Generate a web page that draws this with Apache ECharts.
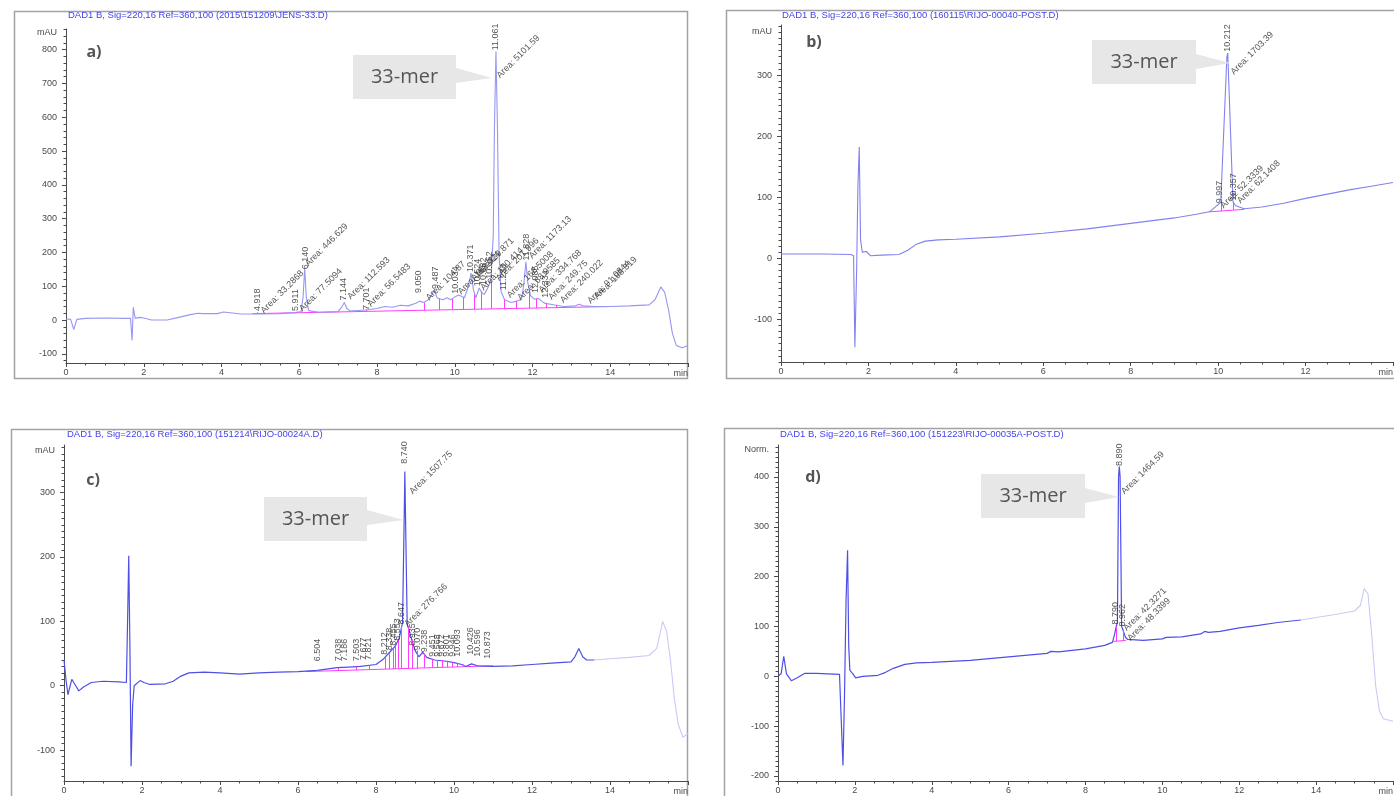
<!DOCTYPE html>
<html><head><meta charset="utf-8">
<script src="https://cdn.jsdelivr.net/npm/echarts@6/dist/echarts.min.js"></script>
<style>html,body{margin:0;padding:0;background:#fff}#c{width:1394px;height:796px}</style>
</head><body><div id="c"></div>
<script>
// ---------- DATA ----------
const traceA = [[0,3],[0.12,2],[0.2,-28],[0.28,2],[0.5,5],[1.0,6],[1.5,5],[1.66,5],[1.7,-60],[1.73,38],[1.78,5],[1.9,8],[2.0,6],[2.2,0],[2.6,0],[2.9,8],[3.2,16],[3.4,20],[3.45,25],[3.5,19],[3.9,19],[4.05,24],[4.1,19],[4.5,18],[5.0,18],[5.5,19],[5.9,22],[6.05,25],[6.1,70],[6.14,153],[6.18,70],[6.24,28],[6.5,23],[7.0,25],[7.1,40],[7.16,52],[7.22,35],[7.3,27],[7.7,30],[8.0,34],[8.2,40],[8.4,38],[8.6,44],[8.8,42],[9.0,50],[9.1,56],[9.2,52],[9.35,62],[9.47,88],[9.55,65],[9.7,60],[9.8,66],[9.9,60],[10.0,68],[10.1,74],[10.25,66],[10.35,100],[10.42,139],[10.48,90],[10.54,66],[10.63,95],[10.7,80],[10.76,76],[10.85,95],[10.93,118],[10.99,250],[11.02,560],[11.06,795],[11.1,560],[11.14,200],[11.19,85],[11.28,60],[11.45,52],[11.6,56],[11.72,62],[11.78,110],[11.83,172],[11.88,110],[11.95,72],[12.05,62],[12.15,64],[12.3,50],[12.5,46],[12.8,40],[13.1,42],[13.2,47],[13.3,42],[13.6,40],[14.0,40],[14.5,42],[15.0,45],[15.15,60],[15.3,98],[15.4,82],[15.5,30],[15.6,-40],[15.7,-75],[15.85,-82],[16.0,-75]];
const traceB = [[0,7],[1.0,7],[1.6,6],[1.66,4],[1.69,-146],[1.73,-20],[1.76,120],[1.79,182],[1.82,30],[1.86,10],[1.95,11],[2.05,4],[2.3,5],[2.7,6],[2.9,13],[3.1,23],[3.3,28],[3.6,30],[4,31],[5,35],[6,41],[7,48],[8,57],[9,66],[9.5,72],[9.8,76],[9.95,85],[10.0,88],[10.06,92],[10.2,330],[10.22,336],[10.34,92],[10.4,86],[10.6,81],[11,84],[11.5,90],[12,98],[12.5,105],[13,112],[13.5,118],[14,124]];
const traceC = [[0,40],[0.05,10],[0.1,-14],[0.2,10],[0.28,2],[0.38,-8],[0.5,-2],[0.7,5],[1.0,7],[1.4,6],[1.6,5],[1.63,100],[1.66,202],[1.69,60],[1.72,-125],[1.76,-30],[1.8,0],[1.95,8],[2.05,5],[2.2,2],[2.6,3],[2.8,7],[3.0,15],[3.2,20],[3.6,21],[4,20],[4.5,18],[5,20],[5.5,21],[6,22],[6.5,24],[7,28],[7.3,29],[7.6,30],[8,33],[8.2,42],[8.35,52],[8.5,62],[8.6,75],[8.68,98],[8.72,250],[8.74,333],[8.76,250],[8.8,96],[8.9,75],[9.0,55],[9.1,45],[9.2,52],[9.3,44],[9.5,40],[9.8,38],[10.0,36],[10.2,33],[10.3,30],[10.45,34],[10.6,31],[11,30],[11.5,31],[12,33],[12.5,35],[13,37],[13.1,45],[13.2,58],[13.3,45],[13.4,40],[13.6,40]];
const traceCFaded = [[13.6,40],[14,42],[14.5,44],[15,47],[15.2,58],[15.35,100],[15.45,85],[15.55,40],[15.65,-20],[15.75,-60],[15.87,-80],[16,-74]];
const traceD = [[0,0],[0.08,5],[0.15,40],[0.22,5],[0.35,-9],[0.5,-3],[0.7,6],[1.0,6],[1.3,5],[1.6,4],[1.65,0],[1.69,-179],[1.73,-40],[1.77,150],[1.81,253],[1.84,60],[1.87,12],[1.95,5],[2.02,-3],[2.2,0],[2.6,2],[2.8,8],[3.0,16],[3.3,24],[3.6,27],[4,28],[5,32],[6,39],[7,46],[7.1,50],[7.3,49],[8,55],[8.5,62],[8.7,68],[8.76,85],[8.8,100],[8.83,108],[8.86,400],[8.88,421],[8.9,400],[8.94,100],[8.98,92],[9.04,78],[9.1,74],[9.5,72],[10,75],[10.1,78],[10.15,75],[10.5,79],[11,85],[11.1,90],[11.15,94],[11.2,88],[11.5,90],[12,97],[12.5,102],[13,108],[13.6,113]];
const traceDFaded = [[13.6,113],[14,118],[14.5,124],[15,131],[15.15,142],[15.25,176],[15.35,165],[15.45,80],[15.55,-20],[15.65,-70],[15.75,-85],[16,-90]];

// integration baselines [t, v] and drop lines [t, base, top]
const baseA = [[4.8,19],[14.0,40]];
const dropsA = [[4.92,19,23],[5.91,21,24],[7.72,26,30],[9.21,29,52],[9.6,30,64],[9.94,31,62],[10.22,31,68],[10.5,32,75],[10.68,32,85],[10.94,33,118],[11.28,34,60],[11.59,35,56],[11.92,35,88],[12.1,36,63],[12.36,36,49],[12.62,37,44]];
const baseB = [[9.8,76],[10.6,80]];
const dropsB = [[10.06,77,92],[10.34,79,92]];
const baseC = [[6.2,22],[11.0,31]];
const dropsC = [[6.5,23,25],[7.04,24,28],[7.5,24,30],[7.82,25,32],[8.23,26,44],[8.33,26,51],[8.43,26,57],[8.5,26,62],[8.58,27,72],[8.66,27,94],[8.82,27,92],[8.93,27,72],[9.05,27,55],[9.23,28,50],[9.44,28,42],[9.57,28,40],[9.69,29,40],[9.82,29,39],[9.95,29,36],[10.08,29,35],[10.23,30,33]];
const baseD = [[8.72,70],[9.05,72]];
const dropsD = [[8.79,70,100],[8.97,71,94]];

// peak annotations [t, v, text]
const rtA = [[4.92,27,'4.918'],[5.91,27,'5.911'],[6.15,150,'6.140'],[7.15,58,'7.144'],[7.72,30,'7.701'],[9.07,80,'9.050'],[9.5,92,'9.487'],[10.03,78,'10.034'],[10.4,142,'10.371'],[10.58,100,'10.524'],[10.74,104,'10.682'],[10.9,122,'10.852'],[11.06,798,'11.061'],[11.25,88,'11.233'],[11.84,176,'11.828'],[12.08,80,'12.085'],[12.33,66,'12.334']];
const areaA = [[5.05,24,'Area: 33.2868'],[6.04,30,'Area: 77.5094'],[6.19,163,'Area: 446.629'],[7.28,65,'Area: 112.593'],[7.8,44,'Area: 56.5483'],[9.3,62,'Area: 104.87'],[10.12,80,'Area: 183.024'],[10.46,120,'Area: 429.871'],[10.7,92,'Area: 160.414'],[11.12,720,'Area: 5101.59'],[11.1,120,'Area: 201.996'],[11.38,70,'Area: 168.5008'],[11.65,62,'Area: 68.9585'],[11.95,186,'Area: 1173.13'],[12.2,85,'Area: 334.768'],[12.45,64,'Area: 249.75'],[12.75,55,'Area: 240.022'],[13.45,53,'Area: 91.0844'],[13.62,65,'Area: 188.319']];
const rtB = [[10.02,90,'9.997'],[10.22,338,'10.212'],[10.36,94,'10.357']];
const areaB = [[10.09,84,'Area: 52.3339'],[10.32,303,'Area: 1703.39'],[10.47,92,'Area: 62.1408']];
const rtC = [[6.5,38,'6.504'],[7.04,38,'7.038'],[7.19,38,'7.186'],[7.5,38,'7.503'],[7.68,40,'7.677'],[7.82,40,'7.821'],[8.21,48,'8.212'],[8.34,55,'8.338'],[8.46,62,'8.455'],[8.56,70,'8.553'],[8.65,95,'8.647'],[8.74,345,'8.740'],[8.94,62,'8.935'],[9.07,55,'9.070'],[9.24,52,'9.238'],[9.45,45,'9.451'],[9.57,45,'9.568'],[9.67,45,'9.672'],[9.8,45,'9.801'],[9.95,45,'9.946'],[10.09,45,'10.093'],[10.43,48,'10.426'],[10.6,45,'10.596'],[10.87,42,'10.873']];
const areaC = [[8.9,300,'Area: 1507.75'],[8.77,94,'Area: 276.766']];
const rtD = [[8.88,422,'8.890'],[8.79,104,'8.790'],[8.96,100,'8.962']];
const areaD = [[8.97,368,'Area: 1464.59'],[9.03,94,'Area: 42.3271'],[9.13,74,'Area: 48.3399']];

// axis ticks
const xTicks = [0,2,4,6,8,10,12,14];
const xTicksB = [0,2,4,6,8,10,12];
const yTicksA = [-100,0,100,200,300,400,500,600,700,800];
const yTicksB = [-100,0,100,200,300];
const yTicksC = [-100,0,100,200,300];
const yTicksD = [-200,-100,0,100,200,300,400];

const headers = ['DAD1 B, Sig=220,16 Ref=360,100 (2015\\151209\\JENS-33.D)',
  'DAD1 B, Sig=220,16 Ref=360,100 (160115\\RIJO-00040-POST.D)',
  'DAD1 B, Sig=220,16 Ref=360,100 (151214\\RIJO-00024A.D)',
  'DAD1 B, Sig=220,16 Ref=360,100 (151223\\RIJO-00035A-POST.D)'];
const panelLetters = ['a)','b)','c)','d)'];
const unitNames = ['mAU','mAU','mAU','Norm.'];
const calloutText = '33-mer';

// ---------- LAYOUT / STYLE ----------
const FONT = '"Liberation Sans", Arial, sans-serif';
const grids = [
  {left:66, top:29, width:622, height:334},
  {left:781, top:25, width:620, height:337},
  {left:64, top:445, width:624, height:339},
  {left:778, top:445, width:622, height:337}
];
const panels = [
  {xmax:16, xt:xTicks, ymin:-127, ymax:861, yt:yTicksA, minor:20, nameGap:-4, namePad:9,
   traces:[[traceA,'#9797f2',1.1]], base:baseA, drops:dropsA, rt:rtA, area:areaA},
  {xmax:14, xt:xTicksB, ymin:-170, ymax:382, yt:yTicksB, minor:10, nameGap:-7, namePad:9,
   traces:[[traceB,'#8282ee',1.1]], base:baseB, drops:dropsB, rt:rtB, area:areaB},
  {xmax:16, xt:xTicks, ymin:-148, ymax:374, yt:yTicksC, minor:10, nameGap:-6, namePad:9,
   traces:[[traceC,'#4f4fe6',1.2],[traceCFaded,'#cacaf7',1.1]], base:baseC, drops:dropsC, rt:rtC, area:areaC},
  {xmax:16, xt:xTicks, ymin:-210, ymax:464, yt:yTicksD, minor:10, nameGap:-5, namePad:9,
   traces:[[traceD,'#4f4fe6',1.2],[traceDFaded,'#cacaf7',1.1]], base:baseD, drops:dropsD, rt:rtD, area:areaD}
];
function range(a,b,s){const r=[];for(let v=a;v<=b+1e-9;v+=s)r.push(Math.round(v*100)/100);return r;}

const AX = '#4a4a4a';
const xAxis=[], yAxis=[], series=[];
panels.forEach((p,i)=>{
  xAxis.push({gridIndex:i, type:'value', position:'bottom', min:0, max:p.xmax, interval:2,
    axisLine:{onZero:false, lineStyle:{color:AX,width:1}}, axisTick:{length:4,lineStyle:{color:AX}},
    axisLabel:{customValues:p.xt, fontSize:9, color:AX, margin:5, fontFamily:FONT},
    splitLine:{show:false},
    name:'min', nameLocation:'end', nameGap:0,
    nameTextStyle:{align:'right', verticalAlign:'top', padding:[6,0,0,0], fontSize:9, color:AX, fontFamily:FONT}});
  xAxis.push({gridIndex:i, type:'value', position:'bottom', min:0, max:p.xmax, interval:0.5,
    axisLine:{show:false,onZero:false}, axisTick:{length:2.5,lineStyle:{color:AX}},
    axisLabel:{show:false}, splitLine:{show:false}});
  const minorVals = range(Math.ceil(p.ymin/p.minor)*p.minor, p.ymax, p.minor);
  yAxis.push({gridIndex:i, type:'value', position:'left', min:p.ymin, max:p.ymax,
    axisLine:{show:true,onZero:false, lineStyle:{color:AX,width:1}},
    axisTick:{show:true, customValues:p.yt, length:4, lineStyle:{color:AX}},
    axisLabel:{customValues:p.yt, fontSize:9, color:AX, margin:9, fontFamily:FONT},
    splitLine:{show:false},
    name:unitNames[i], nameLocation:'end', nameGap:p.nameGap,
    nameTextStyle:{align:'right', verticalAlign:'middle', padding:[0,p.namePad,0,0], fontSize:9, color:AX, fontFamily:FONT}});
  yAxis.push({gridIndex:i, type:'value', position:'left', min:p.ymin, max:p.ymax,
    axisLine:{show:false,onZero:false},
    axisTick:{show:true, customValues:minorVals, length:2.5, lineStyle:{color:AX}},
    axisLabel:{show:false}, splitLine:{show:false}});
  const xi=2*i, yi=2*i;
  p.traces.forEach(([d,c,w])=>{
    series.push({type:'line', xAxisIndex:xi, yAxisIndex:yi, data:d, symbol:'none', showSymbol:false,
      lineStyle:{width:w,color:c}, itemStyle:{color:c}, z:3, animation:false, silent:true});
  });
  series.push({type:'line', xAxisIndex:xi, yAxisIndex:yi, data:p.base, symbol:'none',
    lineStyle:{width:1,color:'#ff3cff'}, z:2, animation:false, silent:true,
    markLine:{silent:true, symbol:['none','none'], animation:false, label:{show:false},
      lineStyle:{color:'#ff3cff', width:1, type:'solid'},
      data:p.drops.map(d=>[{coord:[d[0],d[1]]},{coord:[d[0],d[2]]}])}});
  const lab = (items, rot)=>({type:'scatter', xAxisIndex:xi, yAxisIndex:yi, symbolSize:1,
    itemStyle:{color:'rgba(0,0,0,0)'}, silent:true, z:5, animation:false,
    data:items.map(d=>({value:[d[0],d[1]], name:d[2]})),
    label:{show:true, formatter:'{b}', position:'inside', rotate:rot, align:'left', verticalAlign:'middle',
      fontSize:9, fontFamily:FONT, color:'#2a2a2a'}});
  series.push(lab(p.rt, 90));
  series.push(lab(p.area, 45));
});

// ---------- GRAPHICS (frames, headers, callouts) ----------
const frames = [[14.5,11.5,673,367],[726.5,10.5,700,368],[11.5,429.5,676,400],[724.5,428.5,700,400]];
const headerPos = [[68,15],[782,15],[67,434],[780,434]];
const letterPos = [[94,52],[814,42],[93,480],[813,477]];
// callout: box x0,x1,y0,y1, pointer base y0,y1, tip x,y
const callouts = [[353,456,55,99,68,83,492,78],[1092,1196,40,84,54,69,1230,63],[264,367,497,541,510,525,404,520],[981,1085,474,518,488,503,1119,497]];
const graphic=[];
frames.forEach(f=>graphic.push({type:'rect', shape:{x:f[0],y:f[1],width:f[2],height:f[3]}, style:{fill:'none',stroke:'#a2a2a2',lineWidth:1.5}, silent:true, z:0}));
headers.forEach((h,i)=>graphic.push({type:'text', x:headerPos[i][0], y:headerPos[i][1], style:{text:h, fill:'#4343ea', font:'9.5px '+FONT, align:'left', verticalAlign:'middle'}, silent:true}));
panelLetters.forEach((l,i)=>graphic.push({type:'text', x:letterPos[i][0], y:letterPos[i][1], style:{text:l, fill:'#555', font:'bold 16px "Open Sans", "DejaVu Sans", sans-serif', align:'center', verticalAlign:'middle'}, silent:true}));
callouts.forEach(c=>{
  const [x0,x1,y0,y1,b0,b1,tx,ty]=c;
  graphic.push({type:'polygon', shape:{points:[[x0,y0],[x1,y0],[x1,b0],[tx,ty],[x1,b1],[x1,y1],[x0,y1]]}, style:{fill:'#e7e7e7'}, silent:true, z:10});
  graphic.push({type:'text', x:(x0+x1)/2, y:(y0+y1)/2, style:{text:calloutText, fill:'#555', font:'20px "Open Sans", sans-serif', align:'center', verticalAlign:'middle'}, silent:true, z:11});
});

const chart = echarts.init(document.getElementById('c'), null, {renderer:'canvas'});
chart.setOption({animation:false, backgroundColor:'#fff', grid:grids, xAxis, yAxis, series, graphic});
</script></body></html>
